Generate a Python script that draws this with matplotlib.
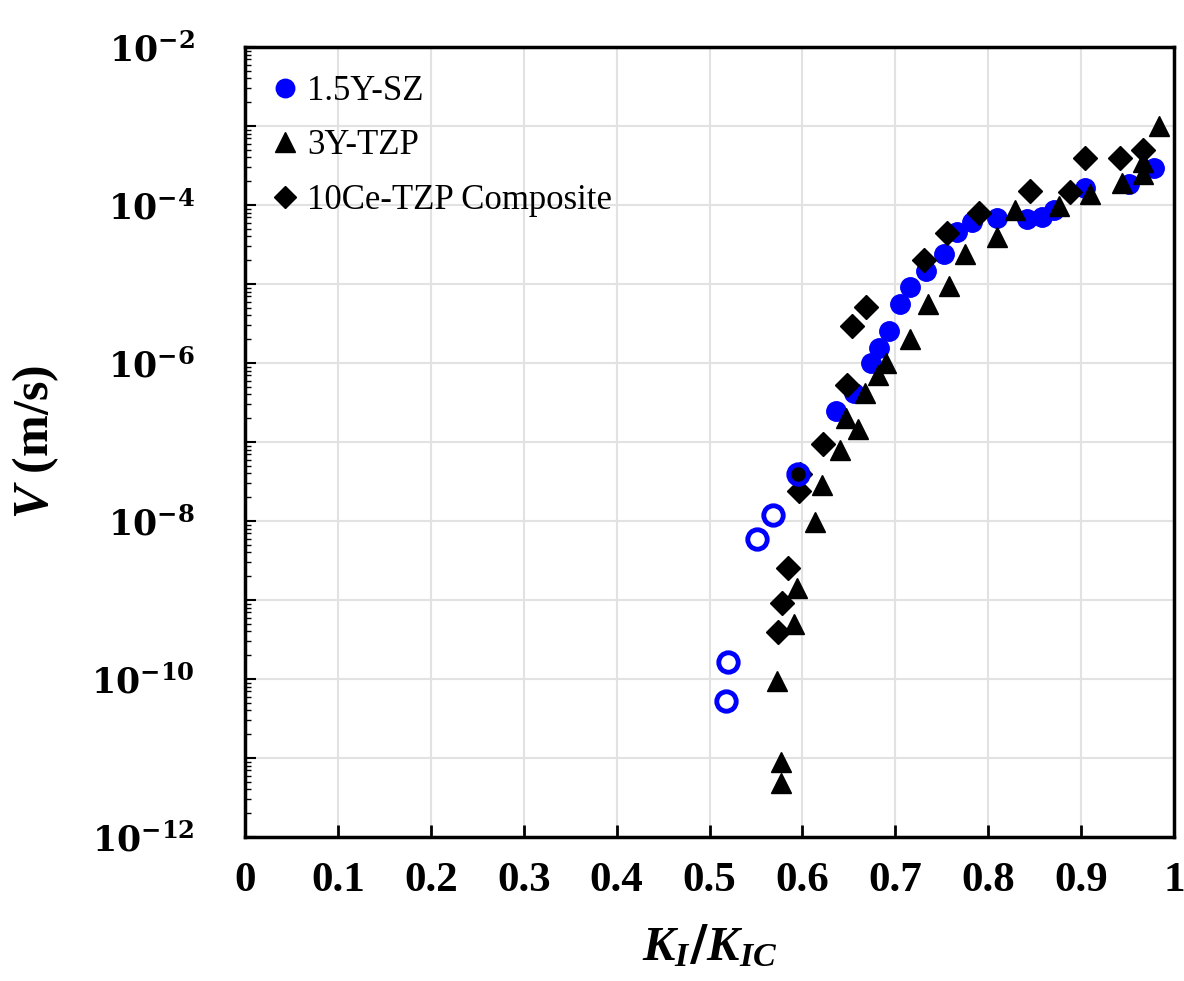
import matplotlib
matplotlib.use('Agg')
import matplotlib.pyplot as plt
from matplotlib.ticker import LogLocator, FuncFormatter, MultipleLocator, NullFormatter
import numpy as np

# Datos (K_I/K_IC, log10 V)
sz_k = [0.636, 0.655, 0.674, 0.682, 0.693, 0.705, 0.716, 0.733, 0.752, 0.766,
        0.782, 0.809, 0.842, 0.858, 0.871, 0.904, 0.952, 0.978]
sz_logv = [-6.61, -6.38, -6.00, -5.81, -5.59, -5.25, -5.04, -4.83, -4.62, -4.34,
           -4.21, -4.17, -4.18, -4.15, -4.06, -3.78, -3.73, -3.53]

sz_open_k = [0.518, 0.520, 0.551, 0.568, 0.595]
sz_open_logv = [-10.28, -9.79, -8.23, -7.92, -7.40]

tzp_k = [0.577, 0.577, 0.573, 0.591, 0.594, 0.614, 0.621, 0.640, 0.647, 0.660,
         0.667, 0.681, 0.690, 0.716, 0.735, 0.758, 0.775, 0.809, 0.829, 0.876,
         0.910, 0.944, 0.967, 0.967, 0.984]
tzp_logv = [-11.32, -11.05, -10.03, -9.30, -8.85, -8.01, -7.54, -7.10, -6.70, -6.83,
            -6.38, -6.15, -6.00, -5.70, -5.25, -5.03, -4.62, -4.41, -4.06, -4.01,
            -3.86, -3.72, -3.61, -3.45, -3.00]

ce_k = [0.574, 0.578, 0.584, 0.596, 0.597, 0.622, 0.648, 0.653, 0.668, 0.731,
        0.756, 0.790, 0.845, 0.888, 0.904, 0.942, 0.967]
ce_logv = [-9.40, -9.04, -8.59, -7.62, -7.40, -7.03, -6.28, -5.53, -5.29, -4.70,
           -4.35, -4.10, -3.82, -3.83, -3.40, -3.40, -3.30]

x_ticks = [0, 0.1, 0.2, 0.3, 0.4, 0.5, 0.6, 0.7, 0.8, 0.9, 1]
x_labels = ['0', '0.1', '0.2', '0.3', '0.4', '0.5', '0.6', '0.7', '0.8', '0.9', '1']

plt.rcParams['mathtext.fontset'] = 'custom'
plt.rcParams['mathtext.rm'] = 'DejaVu Serif:bold'
plt.rcParams['mathtext.bf'] = 'DejaVu Serif:bold'
plt.rcParams['mathtext.it'] = 'Liberation Serif:italic:bold'

fig = plt.figure(figsize=(11.84, 9.81), dpi=100)
ax = fig.add_axes([0.2069, 0.1468, 0.7847, 0.8053])

ax.set_yscale('log')
ax.set_xlim(0, 1)
ax.set_ylim(1e-12, 1e-2)

ms = 14
ax.plot(sz_k, 10.0 ** np.array(sz_logv), 'o', color='#0000ff', ms=ms, mec='#0000ff',
        linestyle='none', label='1.5Y-SZ', zorder=3)
ax.plot(tzp_k, 10.0 ** np.array(tzp_logv), '^', color='black', ms=ms + 1,
        linestyle='none', label='3Y-TZP', zorder=4)
ax.plot(ce_k, 10.0 ** np.array(ce_logv), 'D', color='black', ms=ms - 2,
        linestyle='none', label='10Ce-TZP Composite', zorder=5)
ax.plot(sz_open_k, 10.0 ** np.array(sz_open_logv), 'o', mfc='none', mec='#0000ff',
        mew=3.5, ms=ms, linestyle='none', zorder=6)

# Rejilla
ax.xaxis.set_major_locator(MultipleLocator(0.1))
ax.yaxis.set_major_locator(LogLocator(base=10, numticks=20))
ax.yaxis.set_minor_locator(LogLocator(base=10, subs=np.arange(2, 10), numticks=20))
ax.yaxis.set_minor_formatter(NullFormatter())
ax.grid(True, which='major', color='#e2e2e2', linewidth=1.5, zorder=0)
ax.set_axisbelow(True)


def fmt_y(v, pos):
    e = int(round(np.log10(v)))
    if e % 2 != 0:
        return ''
    return r'$\mathrm{10^{%d}}$' % e


ax.yaxis.set_major_formatter(FuncFormatter(fmt_y))
ax.set_xticks(x_ticks)
ax.set_xticklabels(x_labels, fontfamily='Liberation Serif', fontweight='bold', fontsize=31)

ax.tick_params(axis='x', direction='in', length=9, width=2, pad=18, top=False)
ax.tick_params(axis='y', which='major', direction='in', length=8, width=1.5, pad=36,
               right=False, labelsize=25)
ax.tick_params(axis='y', which='minor', direction='in', length=4, width=1, right=False)

for spine in ax.spines.values():
    spine.set_linewidth(2.5)
    spine.set_color('black')

ax.set_xlabel(r'$K_I/K_{IC}$', fontsize=35, labelpad=16)
ax.set_ylabel(r'$V$ (m/s)', fontfamily='Liberation Serif', fontweight='bold',
              fontsize=36, labelpad=22)

leg = ax.legend(loc='upper left', frameon=False, prop={'family': 'Liberation Serif', 'size': 25},
                handlelength=0.7, handletextpad=0.3, labelspacing=0.62,
                borderaxespad=0.25, borderpad=0.55, markerscale=0.95)

fig.savefig('out.png', dpi=100)
plt.close(fig)
